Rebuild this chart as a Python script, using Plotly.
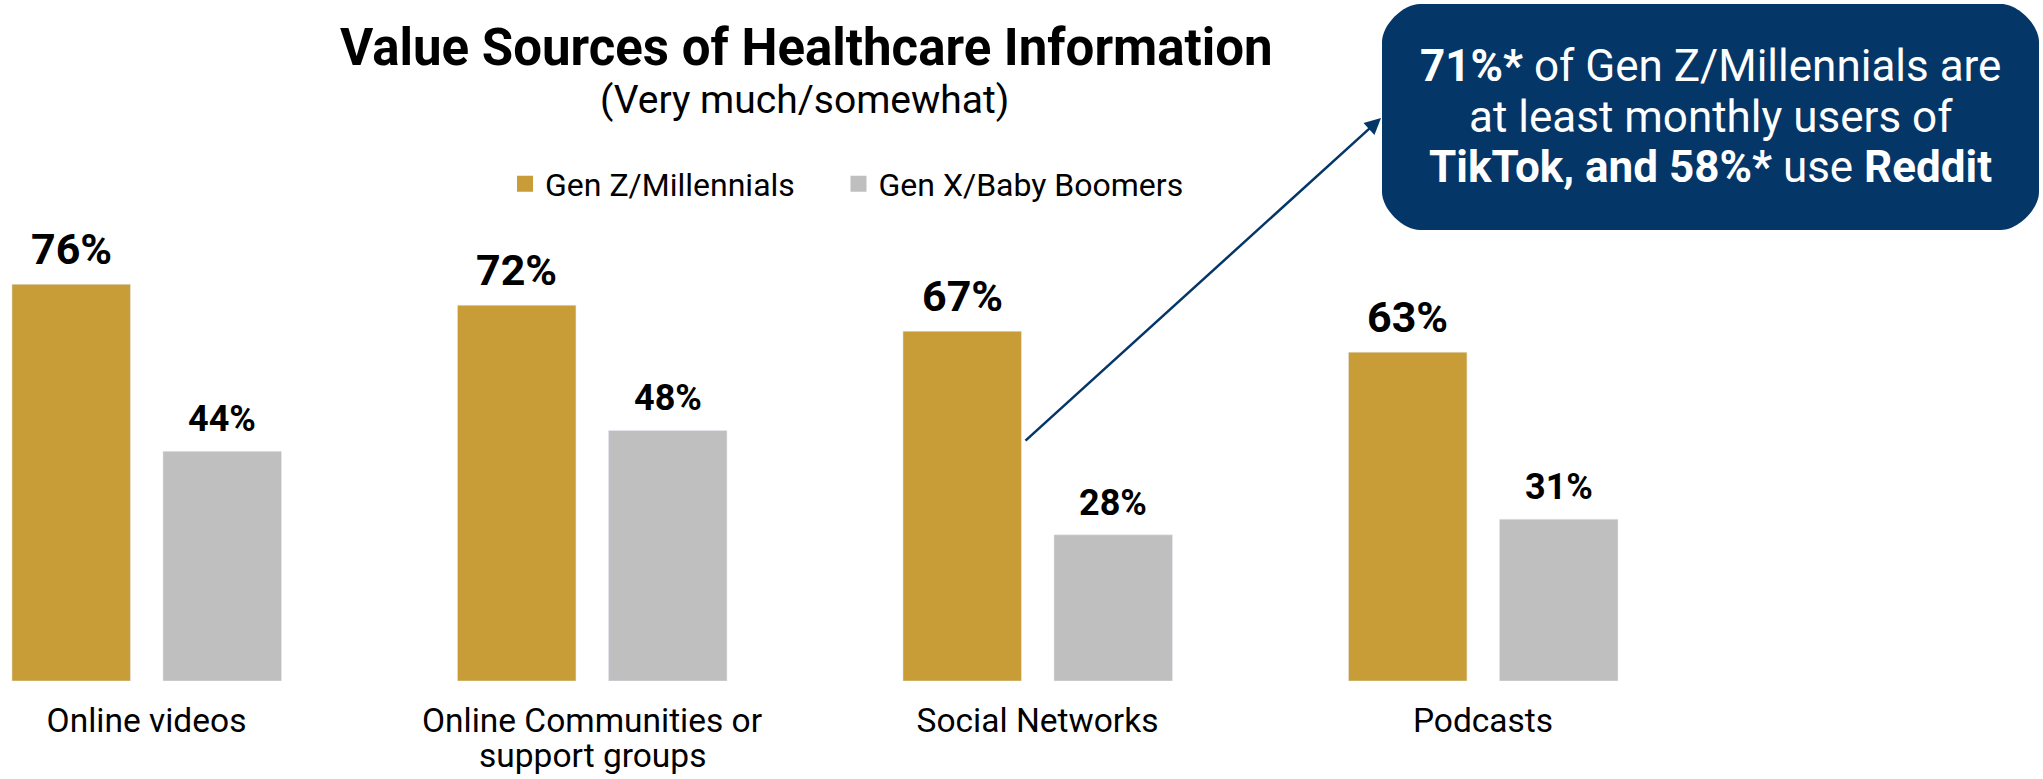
import plotly.graph_objects as go

# ---- data ----
categories = ["Online videos", "Online Communities or", "Social Networks", "Podcasts"]
category_continuation = ["", "support groups", "", ""]
series_names = ["Gen Z/Millennials", "Gen X/Baby Boomers"]
genz_millennials = [76, 72, 67, 63]
genx_boomers = [44, 48, 28, 31]

GOLD = "#C89D37"
GRAY = "#BFBFBF"
NAVY = "#043668"
FONT = "Roboto"

W, H = 2043, 779
M_TOP, M_BOT = 159, 98
PLOT_H = H - M_TOP - M_BOT

def px_x(px):
    return px / W

def px_y(px):
    return (H - M_BOT - px) / PLOT_H

x_pos = list(range(len(categories)))
bar_w = 0.266
offsets = [-0.302, 0.037]
series_vals = [genz_millennials, genx_boomers]
colors = [GOLD, GRAY]
label_sizes = [43, 36]
label_shift = [8, 9]
legend_ids = ["legend", "legend2"]
legend_x_px = [505, 838.5]
CAT_FONT = 33.5

fig = go.Figure()
for name, vals, col, off in zip(series_names, series_vals, colors, offsets):
    fig.add_trace(go.Bar(
        x=x_pos, y=vals, name=name, width=bar_w, offset=off,
        marker=dict(color=col), showlegend=False,
    ))

# legend entries with larger square swatches, one legend per series
for name, col, lid in zip(series_names, colors, legend_ids):
    fig.add_trace(go.Scatter(
        x=[None], y=[None], mode="markers", name=name, legend=lid,
        marker=dict(symbol="square", size=18, color=col),
    ))

annotations = []
# value labels above each bar
for vals, off, size, shift in zip(series_vals, offsets, label_sizes, label_shift):
    for xi, v in zip(x_pos, vals):
        annotations.append(dict(
            text=f"<b>{v}%</b>", x=xi + off + bar_w / 2, y=v, xref="x", yref="y",
            showarrow=False, xanchor="center", yanchor="bottom", yshift=shift,
            font=dict(family=FONT, size=size, color="#000000"),
        ))

# second line of wrapped category names, set with tight leading
for xi, extra in zip(x_pos, category_continuation):
    if extra:
        annotations.append(dict(
            text=extra, x=xi, y=px_y(755.5), xref="x", yref="paper",
            showarrow=False, xanchor="center", yanchor="middle",
            font=dict(family=FONT, size=CAT_FONT, color="#000000"),
        ))

# rounded call-out box (pixel corners converted to paper space)
bx0, bx1, by0, by1, r = 1382, 2039, 4, 230, 38
k = 0.45 * r
pts = [
    ("M", bx0 + r, by0),
    ("L", bx1 - r, by0),
    ("C", bx1 - r + k, by0, bx1, by0 + r - k, bx1, by0 + r),
    ("L", bx1, by1 - r),
    ("C", bx1, by1 - r + k, bx1 - r + k, by1, bx1 - r, by1),
    ("L", bx0 + r, by1),
    ("C", bx0 + r - k, by1, bx0, by1 - r + k, bx0, by1 - r),
    ("L", bx0, by0 + r),
    ("C", bx0, by0 + r - k, bx0 + r - k, by0, bx0 + r, by0),
]
path = ""
for p in pts:
    cmd, coords = p[0], p[1:]
    pairs = [f"{px_x(coords[i]):.5f},{px_y(coords[i + 1]):.5f}" for i in range(0, len(coords), 2)]
    path += cmd + " ".join(pairs) + " "
path += "Z"
fig.add_shape(type="path", path=path, xref="paper", yref="paper",
              fillcolor=NAVY, line=dict(width=0), layer="above")

# call-out text, one line per annotation for tighter leading
callout_lines = [
    "<b>71%*</b> of Gen Z/Millennials are",
    "at least monthly users of",
    "<b>TikTok, and 58%*</b> use <b>Reddit</b>",
]
callout_baselines = [82, 132.5, 183]
for line, base in zip(callout_lines, callout_baselines):
    annotations.append(dict(
        text=line, x=px_x(1710.5), y=px_y(base + 12), xref="paper", yref="paper",
        showarrow=False, xanchor="center", yanchor="bottom",
        font=dict(family=FONT, size=44, color="#FFFFFF"),
    ))

annotations += [
    dict(text="<b>Value Sources of Healthcare Information</b>", x=px_x(806), y=px_y(47.5),
         xref="paper", yref="paper", showarrow=False, xanchor="center", yanchor="middle",
         font=dict(family=FONT, size=51, color="#000000")),
    dict(text="(Very much/somewhat)", x=px_x(804), y=px_y(100),
         xref="paper", yref="paper", showarrow=False, xanchor="center", yanchor="middle",
         font=dict(family=FONT, size=39, color="#000000")),
    dict(text="", x=px_x(1381), y=px_y(118), xref="paper", yref="paper",
         showarrow=True, ax=1024 - 1381, ay=442 - 118, axref="pixel", ayref="pixel",
         arrowhead=2, arrowsize=1.3, arrowwidth=2.5, arrowcolor=NAVY, standoff=0),
]

legend_style = dict(orientation="h", y=px_y(184), xanchor="left", yanchor="middle",
                    font=dict(family=FONT, size=32, color="#000000"), itemsizing="trace",
                    bgcolor="rgba(0,0,0,0)")

fig.update_layout(
    width=W, height=H, autosize=False,
    margin=dict(l=0, r=0, t=M_TOP, b=M_BOT, pad=0, autoexpand=False),
    paper_bgcolor="#FFFFFF", plot_bgcolor="#FFFFFF",
    barmode="overlay",
    font=dict(family=FONT, color="#000000"),
    xaxis=dict(range=[-146.5 / 445.5, -146.5 / 445.5 + W / 445.5], tickvals=x_pos,
               ticktext=categories, showgrid=False, zeroline=False, showline=False,
               ticks="", ticklabelstandoff=16, automargin=False,
               tickfont=dict(family=FONT, size=CAT_FONT, color="#000000"),
               fixedrange=True),
    yaxis=dict(range=[0, 100], visible=False, fixedrange=True, automargin=False),
    legend=dict(x=px_x(legend_x_px[0]), **legend_style),
    legend2=dict(x=px_x(legend_x_px[1]), **legend_style),
    annotations=annotations,
    showlegend=True,
)

fig.write_html("out.html")
